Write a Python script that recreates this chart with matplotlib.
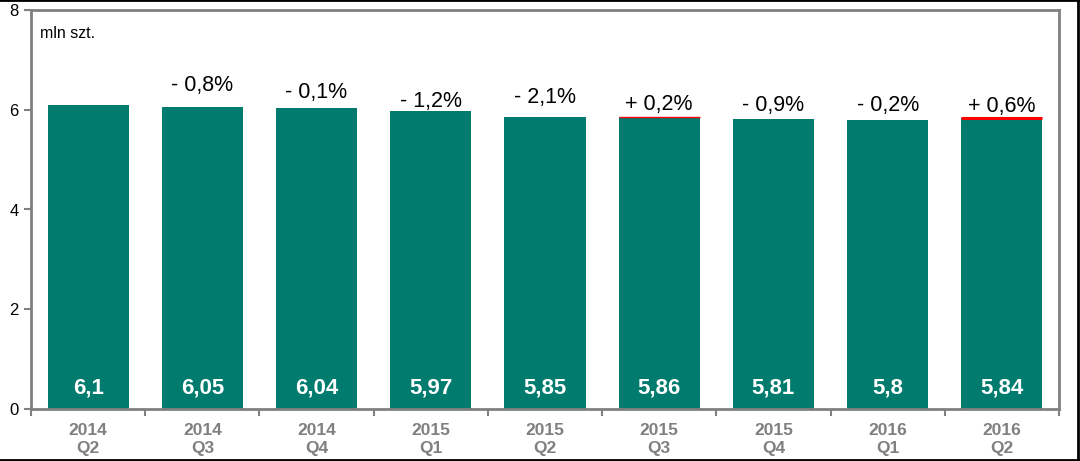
import matplotlib
matplotlib.use("Agg")
import matplotlib.pyplot as plt
import numpy as np

plt.rcParams["font.family"] = ["Liberation Sans", "DejaVu Sans"]

# ----------------------------------------------------------------------
# data
# ----------------------------------------------------------------------
years = ["2014", "2014", "2014", "2015", "2015", "2015", "2015", "2016", "2016"]
quarters = ["Q2", "Q3", "Q4", "Q1", "Q2", "Q3", "Q4", "Q1", "Q2"]
values = [6.1, 6.05, 6.04, 5.97, 5.85, 5.86, 5.81, 5.8, 5.84]
value_labels = ["6,1", "6,05", "6,04", "5,97", "5,85", "5,86", "5,81", "5,8", "5,84"]
change_labels = ["", "- 0,8%", "- 0,1%", "- 1,2%", "- 2,1%", "+ 0,2%",
                 "- 0,9%", "- 0,2%", "+ 0,6%"]
# baseline of each change label above its bar (points), hand placed in the original
change_offsets = [0, 12, 7, 2.7, 10.3, 5, 6, 6.5, 4.3]
# red top edge width on the bars that grew
rise_edge = [0, 0, 0, 0, 0, 1.0, 0, 0, 2.2]

BAR = "#007B6E"
GREY = "#808080"

fig = plt.figure(figsize=(10.8, 4.61), dpi=100)
ax = fig.add_axes([31 / 1080, 1 - 409 / 461, 1028 / 1080, 399 / 461])

x = np.arange(len(values))
bars = ax.bar(x, values, width=0.71, color=BAR, zorder=2)

for b, v, lw in zip(bars, values, rise_edge):
    if lw:
        ax.plot([b.get_x(), b.get_x() + b.get_width()], [v, v],
                color="red", lw=lw, zorder=3, solid_capstyle="butt")

for i, v in enumerate(values):
    ax.text(i, 0.43, value_labels[i], ha="center", va="center",
            color="white", fontsize=16, fontweight="bold", zorder=4)
    if change_labels[i]:
        ax.annotate(change_labels[i], (i, v), xytext=(0, change_offsets[i]),
                    textcoords="offset points", ha="center", va="baseline",
                    fontsize=15.5, color="black")

ax.set_xlim(-0.5, len(values) - 0.5)
ax.set_ylim(0, 8)
ax.set_yticks([0, 2, 4, 6, 8])
ax.set_xticks(x)
ax.set_xticklabels([f"{y}\n{q}" for y, q in zip(years, quarters)],
                   fontsize=12.5, fontweight="bold", color=GREY, linespacing=1.3)
ax.set_xticks(np.arange(-0.5, len(values)), minor=True)
ax.tick_params(axis="x", which="major", length=0, pad=10)
ax.tick_params(axis="x", which="minor", length=5, width=1.5, color=GREY)
ax.tick_params(axis="y", length=5, width=1.5, color=GREY, labelsize=12, pad=4)

for s in ax.spines.values():
    s.set_color(GREY)
    s.set_linewidth(2)

ax.text(0.009, 0.942, "mln szt.", transform=ax.transAxes, fontsize=11.5,
        ha="left", va="center")

# black frame lines of the original image
fig.add_artist(plt.Line2D([0, 1], [0.999, 0.999], color="black", lw=2,
                          transform=fig.transFigure))
fig.add_artist(plt.Line2D([0, 1], [0.003, 0.003], color="black", lw=2,
                          transform=fig.transFigure))
fig.add_artist(plt.Line2D([0.998, 0.998], [0, 1], color="black", lw=2,
                          transform=fig.transFigure))

fig.savefig("out.png", dpi=100)
